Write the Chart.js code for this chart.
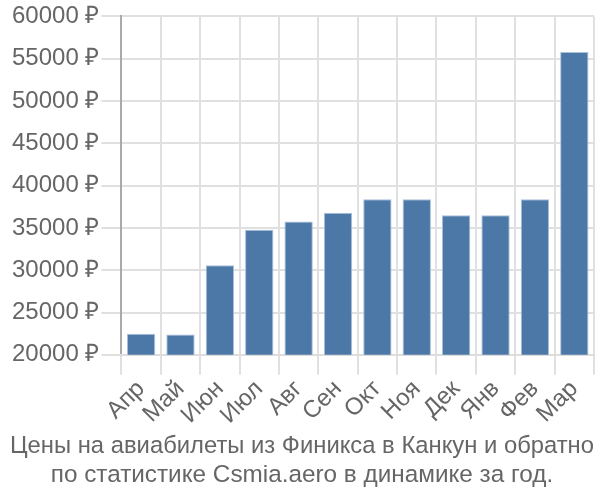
<!DOCTYPE html>
<html>
<head>
<meta charset="utf-8">
<script src="https://cdn.jsdelivr.net/npm/chart.js@4"></script>
<style>
  body { margin: 0; background: #fff; }
  #wrap { width: 600px; height: 500px; }
</style>
</head>
<body>
<div id="wrap"><canvas id="price-chart"></canvas></div>
<script>
const months = ['Апр', 'Май', 'Июн', 'Июл', 'Авг', 'Сен', 'Окт', 'Ноя', 'Дек', 'Янв', 'Фев', 'Мар'];
const prices = [22500, 22400, 30600, 34800, 35750, 36800, 38400, 38400, 36500, 36500, 38400, 55800];
const titleLines = ['Цены на авиабилеты из Финикса в Канкун и обратно', 'по статистике Csmia.aero в динамике за год.'];

const ctx = document.getElementById('price-chart').getContext('2d');
new Chart(ctx, {
    type: 'bar',
    data: {
        labels: months,
        datasets: [{
            label: 'Цена',
            data: prices,
            backgroundColor: '#4c78a8',
            borderColor: '#a9c0da',
            borderWidth: 1
        }]
    },
    options: {
        responsive: true,
        maintainAspectRatio: false,
        animation: false,
        layout: { padding: { top: 4, right: 6, left: 10 } },
        scales: {
            y: {
                min: 20000,
                max: 60000,
                ticks: {
                    stepSize: 5000,
                    color: '#666',
                    padding: 2,
                    font: { family: 'Liberation Sans, Arial', size: 24 },
                    callback: value => `${value} ₽`
                },
                grid: { color: '#e0e0e0', lineWidth: 2, tickLength: 20 },
                border: { color: '#aaa', width: 2 }
            },
            x: {
                ticks: {
                    color: '#666',
                    autoSkip: false,
                    maxRotation: 45,
                    minRotation: 45,
                    padding: 0,
                    font: { family: 'Liberation Sans, Arial', size: 24 }
                },
                grid: { color: '#e0e0e0', lineWidth: 2, tickLength: 20 },
                border: { color: '#ddd', width: 2 }
            }
        },
        plugins: {
            legend: { display: false },
            tooltip: { enabled: false },
            title: {
                display: true,
                position: 'bottom',
                text: titleLines,
                color: '#666',
                font: { family: 'Liberation Sans, Arial', size: 24.3, weight: 'normal' },
                lineHeight: 1.1,
                padding: { top: 2, bottom: 10 }
            }
        }
    }
});
</script>
</body>
</html>
